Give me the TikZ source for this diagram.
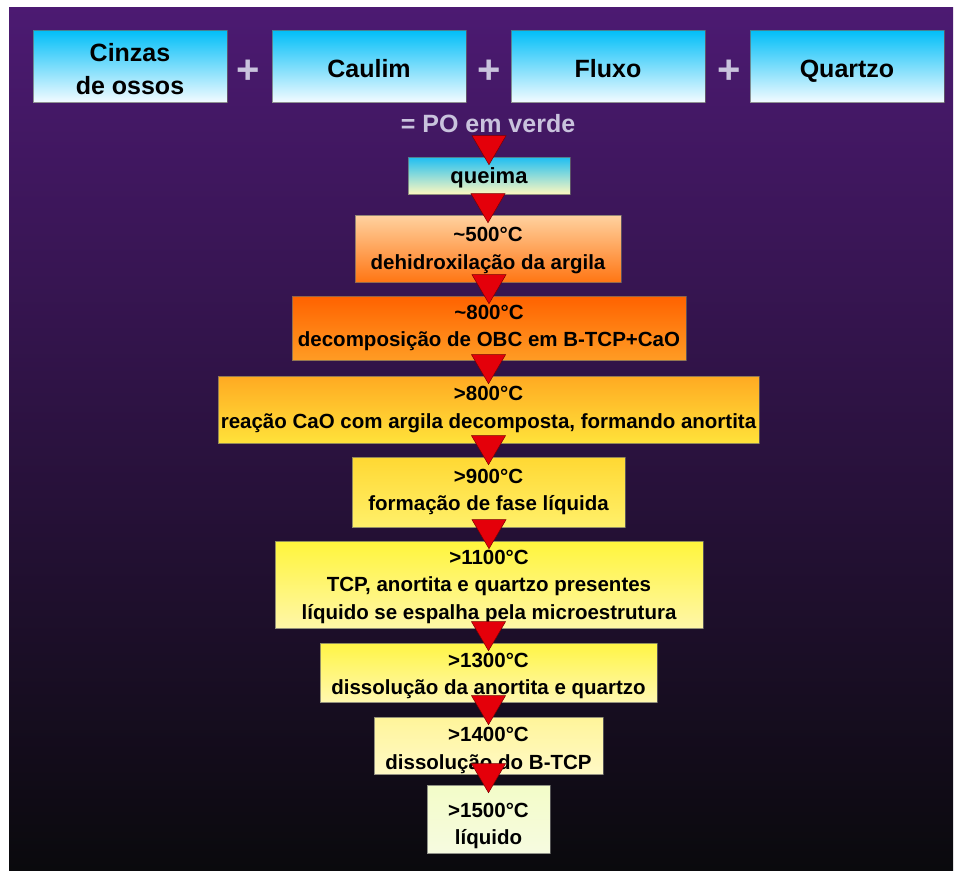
\documentclass[tikz,border=0pt]{standalone}
\usepackage{fontspec}
\setmainfont{Liberation Sans}
\usetikzlibrary{calc}
\definecolor{bgtop}{HTML}{4C1A72}
\definecolor{bgmid}{HTML}{2C184A}
\definecolor{bgbot}{HTML}{0A0A0D}
\definecolor{plusgray}{HTML}{C9C3DD}
\definecolor{trired}{HTML}{E4000A}
\definecolor{triedge}{HTML}{7A0000}
\definecolor{cyanA}{HTML}{00BEF8}
\definecolor{cyanB}{HTML}{F2FBFF}
\tikzset{
  stepbox/.style={draw=black!60, draw opacity=0.7, line width=0.6pt, inner sep=0pt,
    align=center, text=black, font=\bfseries\fontsize{20.5}{27.5}\selectfont},
  inbox/.style={stepbox, top color=cyanA, bottom color=cyanB, minimum width=194, minimum height=72,
    font=\bfseries\fontsize{25}{33}\selectfont},
  plussign/.style={text=plusgray, font=\bfseries\fontsize{40}{40}\selectfont, inner sep=0pt},
  tri/.style={fill=trired, draw=triedge, line width=0.5pt, line join=miter},
}
\newcommand{\tridown}[1]{%
  \draw[tri] ($(#1.north)+(-17,-21)$) -- ($(#1.north)+(17,-21)$) -- ($(#1.north)+(0,8)$) -- cycle;}
\newcommand{\lowered}[2]{\raisebox{-#1}[\height][\depth]{\begin{tabular}{@{}c@{}}#2\end{tabular}}}
\begin{document}
\begin{tikzpicture}[x=1pt,y=-1pt]
\useasboundingbox (0,0) rectangle (957,870);
\shade[top color=bgtop, middle color=bgmid, bottom color=bgbot] (9,7) rectangle (953,870);

% inputs
\node[inbox] (cinzas) at (130,66) {\lowered{5pt}{Cinzas\\de ossos}};
\node[inbox] (caulim) at (369,66) {\lowered{5pt}{Caulim}};
\node[inbox] (fluxo) at (608,66) {\lowered{5pt}{Fluxo}};
\node[inbox] (quartzo) at (847,66) {\lowered{5pt}{Quartzo}};
\node[plussign] (p1) at (248,72) {+};
\node[plussign] (p2) at (489,72) {+};
\node[plussign] (p3) at (729,72) {+};
\node[text=plusgray, font=\bfseries\fontsize{25}{30}\selectfont, inner sep=0pt] (po) at (488,124) {= PO em verde};

% steps
\node[stepbox, top color={rgb,255:red,30;green,190;blue,242}, bottom color={rgb,255:red,253;green,248;blue,192},
  minimum width=162, minimum height=37, font=\bfseries\fontsize{22}{27}\selectfont] (queima) at (489,175.5) {\lowered{3pt}{queima}};
\node[stepbox, top color={rgb,255:red,255;green,210;blue,160}, bottom color={rgb,255:red,255;green,118;blue,20},
  minimum width=266, minimum height=67] (s1) at (488,248.5) {\lowered{1.5pt}{\textasciitilde500°C\\dehidroxilação da argila}};
\node[stepbox, top color={rgb,255:red,255;green,98;blue,0}, bottom color={rgb,255:red,255;green,156;blue,36},
  minimum width=394, minimum height=64] (s2) at (489,328) {\textasciitilde800°C\\decomposição de OBC em B-TCP+CaO};
\node[stepbox, top color={rgb,255:red,255;green,170;blue,34}, bottom color={rgb,255:red,255;green,226;blue,58},
  minimum width=541, minimum height=67] (s3) at (488.5,409.5) {>800°C\\reação CaO com argila decomposta, formando anortita};
\node[stepbox, top color={rgb,255:red,255;green,216;blue,51}, bottom color={rgb,255:red,255;green,240;blue,106},
  minimum width=273, minimum height=70] (s4) at (488.5,492) {>900°C\\formação de fase líquida};
\node[stepbox, top color={rgb,255:red,255;green,245;blue,60}, bottom color={rgb,255:red,255;green,246;blue,168},
  minimum width=428, minimum height=87] (s5) at (489,584.5) {\lowered{1.5pt}{>1100°C\\TCP, anortita e quartzo presentes\\líquido se espalha pela microestrutura}};
\node[stepbox, top color={rgb,255:red,255;green,245;blue,69}, bottom color={rgb,255:red,255;green,247;blue,176},
  minimum width=337, minimum height=59] (s6) at (488.5,672.5) {\lowered{3pt}{>1300°C\\dissolução da anortita e quartzo}};
\node[stepbox, top color={rgb,255:red,255;green,245;blue,154}, bottom color={rgb,255:red,255;green,249;blue,198},
  minimum width=229, minimum height=57] (s7) at (488.5,745.5) {\lowered{4.5pt}{>1400°C\\dissolução do B-TCP}};
\node[stepbox, top color={rgb,255:red,243;green,252;blue,200}, bottom color={rgb,255:red,246;green,251;blue,224},
  minimum width=123, minimum height=68] (s8) at (488.5,819) {\lowered{6.5pt}{>1500°C\\líquido}};

% connectors (red triangles)
\tridown{queima}
\tridown{s1}
\tridown{s2}
\tridown{s3}
\tridown{s4}
\tridown{s5}
\tridown{s6}
\tridown{s7}
\tridown{s8}
\end{tikzpicture}
\end{document}
